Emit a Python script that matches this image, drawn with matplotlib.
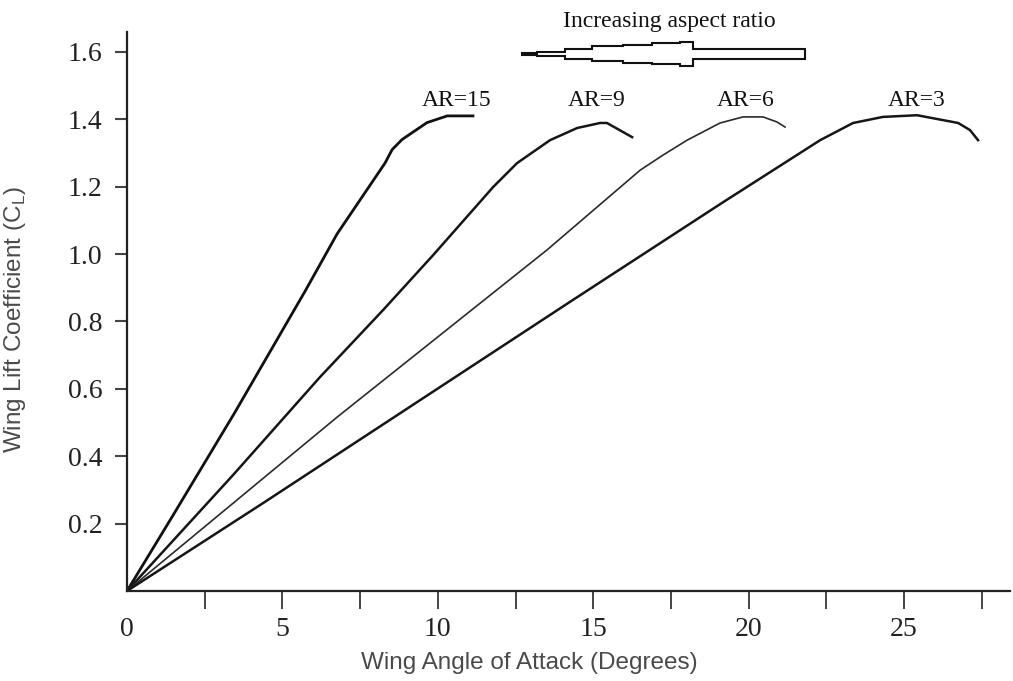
import numpy as np
import matplotlib.pyplot as plt
from matplotlib.patches import Polygon
from matplotlib.ticker import MultipleLocator

# lift curves, angle of attack (deg) vs wing lift coefficient
ar15_alpha = [0, 1.45, 3.47, 5.73, 6.76, 8.30, 8.53, 8.85, 9.65, 10.30, 11.13]
ar15_cl = [0, 0.22, 0.53, 0.89, 1.06, 1.27, 1.31, 1.34, 1.39, 1.41, 1.41]

ar9_alpha = [0, 3.41, 6.21, 8.24, 9.85, 11.78, 12.55, 13.61, 14.48, 15.22, 15.44, 16.25]
ar9_cl = [0, 0.344, 0.635, 0.834, 0.997, 1.199, 1.270, 1.338, 1.374, 1.389, 1.389, 1.347]

ar6_alpha = [0, 6.76, 13.51, 16.51, 17.25, 18.02, 19.08, 19.82, 20.46, 20.91, 21.17]
ar6_cl = [0, 0.516, 1.012, 1.249, 1.294, 1.338, 1.389, 1.407, 1.407, 1.392, 1.377]

ar3_alpha = [0, 4.38, 14.25, 19.18, 22.30, 23.36, 24.32, 25.42, 26.74, 27.12, 27.38]
ar3_cl = [0, 0.261, 0.858, 1.154, 1.338, 1.389, 1.407, 1.412, 1.389, 1.368, 1.338]

curve_labels = ['AR=15', 'AR=9', 'AR=6', 'AR=3']
label_alpha = [10.6, 15.1, 19.9, 25.4]
label_cl = [1.425, 1.425, 1.425, 1.425]

x_ticks = [0, 5, 10, 15, 20, 25]
y_ticks = [0.2, 0.4, 0.6, 0.8, 1.0, 1.2, 1.4, 1.6]

serif = ['Liberation Serif', 'DejaVu Serif']
sans = ['Liberation Sans', 'DejaVu Sans']

fig = plt.figure(figsize=(10.13, 6.81), dpi=100)
ax = fig.add_axes([0.1254, 0.1322, 0.8717, 0.8208])

curves = [(ar15_alpha, ar15_cl, 2.0, '#111111'),
          (ar9_alpha, ar9_cl, 1.8, '#161616'),
          (ar6_alpha, ar6_cl, 1.2, '#2a2a2a'),
          (ar3_alpha, ar3_cl, 1.8, '#161616')]
for a, c, lw, col in curves:
    ax.plot(a, c, color=col, lw=lw, solid_joinstyle='round')

for txt, xa, yc in zip(curve_labels, label_alpha, label_cl):
    ax.text(xa, yc, txt, family=serif, fontsize=17, ha='center', va='bottom',
            color='#111111')

ax.set_xlim(0, 28.41)
ax.set_ylim(0, 1.659)

ax.spines['top'].set_visible(False)
ax.spines['right'].set_visible(False)
for s in ('left', 'bottom'):
    ax.spines[s].set_linewidth(1.6)
    ax.spines[s].set_color('#222222')

ax.set_xticks(x_ticks)
ax.set_xticklabels([str(v) for v in x_ticks], family=serif, fontsize=20, color='#222222')
ax.xaxis.set_minor_locator(MultipleLocator(2.5))
ax.tick_params(axis='x', which='both', direction='out', length=13, width=1.4,
               color='#444444', pad=6)
ax.xaxis.get_major_ticks()[0].tick1line.set_visible(False)

ax.set_yticks(y_ticks)
ax.set_yticklabels([f'{v:.1f}' for v in y_ticks], family=serif, fontsize=20, color='#222222')
ax.tick_params(axis='y', direction='out', length=8.5, width=1.5, color='#444444', pad=9)

ax.set_xlabel('Wing Angle of Attack (Degrees)', family=sans, fontsize=17.5, color='#4a4a4a')
ax.xaxis.set_label_coords(0.456, -0.11)
ax.set_ylabel(r'Wing Lift Coefficient (C$_{\mathregular{L}}$)', family=sans, fontsize=17.5,
              color='#4a4a4a')
ax.yaxis.set_label_coords(-0.112, 0.485)

# stepped outline arrow pointing towards higher aspect ratio
step_x = [12.71, 13.19, 14.09, 14.96, 15.96, 16.89, 17.79, 18.21, 21.81]
half_h = [0.002, 0.0065, 0.0148, 0.0223, 0.0273, 0.0312, 0.0362, 0.0148]
y0 = 1.594
top = []
bot = []
for i, h in enumerate(half_h):
    top += [(step_x[i], y0 + h), (step_x[i + 1], y0 + h)]
    bot += [(step_x[i], y0 - h), (step_x[i + 1], y0 - h)]
outline = top + bot[::-1]
ax.add_patch(Polygon(outline, closed=True, facecolor='white', edgecolor='#111111',
                     lw=1.5, clip_on=False, joinstyle='miter'))

fig.text(0.661, 0.968, 'Increasing aspect ratio', family=serif, fontsize=17,
         ha='center', va='center', color='#111111')

fig.savefig('out.png', dpi=100, facecolor='white')
